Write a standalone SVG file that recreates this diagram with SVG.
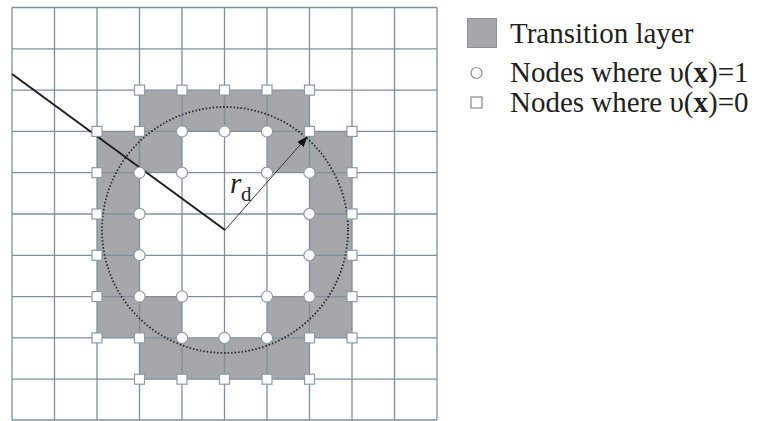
<svg xmlns="http://www.w3.org/2000/svg" xmlns:xlink="http://www.w3.org/1999/xlink" width="760" height="421" viewBox="0 0 760 421">
<style>
.grid line{stroke:#7e909c;stroke-width:1.3}
.band{fill:#a5a7aa}
.sq{fill:#fff;stroke:#8b9ba7;stroke-width:1.2}
.ci{fill:#fff;stroke:#8b9ba7;stroke-width:1.2}
.txt{font-family:"Liberation Serif","Times New Roman",serif;fill:#231f20}
</style>
<defs>
<rect id="s" x="-5" y="-5" width="10" height="10" class="sq"/>
<circle id="c" r="5.6" class="ci"/>
<marker id="ah" markerWidth="11" markerHeight="8" refX="10" refY="4" orient="auto" markerUnits="userSpaceOnUse">
<path d="M0,0 L11,4 L0,8 Z" fill="#111"/>
</marker>
</defs>
<rect width="760" height="421" fill="#fff"/>
<g id="transition-layer">
<rect class="band" x="139.5" y="90.1" width="170" height="41.3"/>
<rect class="band" x="97" y="131.4" width="85" height="41.3"/>
<rect class="band" x="267" y="131.4" width="85" height="41.3"/>
<rect class="band" x="97" y="172.7" width="42.5" height="123.9"/>
<rect class="band" x="309.5" y="172.7" width="42.5" height="123.9"/>
<rect class="band" x="97" y="296.6" width="85" height="41.3"/>
<rect class="band" x="267" y="296.6" width="85" height="41.3"/>
<rect class="band" x="139.5" y="337.9" width="170" height="41.3"/>
</g>
<g id="grid" class="grid">
<line x1="12" y1="7.5" x2="12" y2="420"/>
<line x1="54.5" y1="7.5" x2="54.5" y2="420"/>
<line x1="97" y1="7.5" x2="97" y2="420"/>
<line x1="139.5" y1="7.5" x2="139.5" y2="420"/>
<line x1="182" y1="7.5" x2="182" y2="420"/>
<line x1="224.5" y1="7.5" x2="224.5" y2="420"/>
<line x1="267" y1="7.5" x2="267" y2="420"/>
<line x1="309.5" y1="7.5" x2="309.5" y2="420"/>
<line x1="352" y1="7.5" x2="352" y2="420"/>
<line x1="394.5" y1="7.5" x2="394.5" y2="420"/>
<line x1="437" y1="7.5" x2="437" y2="420"/>
<line x1="12" y1="7.5" x2="437" y2="7.5"/>
<line x1="12" y1="48.8" x2="437" y2="48.8"/>
<line x1="12" y1="90.1" x2="437" y2="90.1"/>
<line x1="12" y1="131.4" x2="437" y2="131.4"/>
<line x1="12" y1="172.7" x2="437" y2="172.7"/>
<line x1="12" y1="214" x2="437" y2="214"/>
<line x1="12" y1="255.3" x2="437" y2="255.3"/>
<line x1="12" y1="296.6" x2="437" y2="296.6"/>
<line x1="12" y1="337.9" x2="437" y2="337.9"/>
<line x1="12" y1="379.2" x2="437" y2="379.2"/>
<line x1="12" y1="420" x2="437" y2="420"/>
</g>
<g id="connectors">
<circle cx="225" cy="230" r="123" fill="none" stroke="#2a2a2a" stroke-width="1.8" stroke-dasharray="1.5 2"/>
<line x1="12" y1="74" x2="225" y2="230" stroke="#1e1e1e" stroke-width="2"/>
<line x1="225" y1="230" x2="307" y2="137" stroke="#3a3a3a" stroke-width="1" marker-end="url(#ah)"/>
</g>
<g id="nodes-zero">
<use xlink:href="#s" x="139.5" y="90.1"/><use xlink:href="#s" x="182" y="90.1"/><use xlink:href="#s" x="224.5" y="90.1"/><use xlink:href="#s" x="267" y="90.1"/><use xlink:href="#s" x="309.5" y="90.1"/>
<use xlink:href="#s" x="139.5" y="379.2"/><use xlink:href="#s" x="182" y="379.2"/><use xlink:href="#s" x="224.5" y="379.2"/><use xlink:href="#s" x="267" y="379.2"/><use xlink:href="#s" x="309.5" y="379.2"/>
<use xlink:href="#s" x="97" y="131.4"/><use xlink:href="#s" x="97" y="172.7"/><use xlink:href="#s" x="97" y="214"/><use xlink:href="#s" x="97" y="255.3"/><use xlink:href="#s" x="97" y="296.6"/><use xlink:href="#s" x="97" y="337.9"/>
<use xlink:href="#s" x="352" y="131.4"/><use xlink:href="#s" x="352" y="172.7"/><use xlink:href="#s" x="352" y="214"/><use xlink:href="#s" x="352" y="255.3"/><use xlink:href="#s" x="352" y="296.6"/><use xlink:href="#s" x="352" y="337.9"/>
<use xlink:href="#s" x="139.5" y="131.4"/><use xlink:href="#s" x="309.5" y="131.4"/><use xlink:href="#s" x="139.5" y="337.9"/><use xlink:href="#s" x="309.5" y="337.9"/>
</g>
<g id="nodes-one">
<use xlink:href="#c" x="182" y="131.4"/><use xlink:href="#c" x="224.5" y="131.4"/><use xlink:href="#c" x="267" y="131.4"/>
<use xlink:href="#c" x="139.5" y="172.7"/><use xlink:href="#c" x="182" y="172.7"/><use xlink:href="#c" x="267" y="172.7"/><use xlink:href="#c" x="309.5" y="172.7"/>
<use xlink:href="#c" x="139.5" y="214"/><use xlink:href="#c" x="309.5" y="214"/>
<use xlink:href="#c" x="139.5" y="255.3"/><use xlink:href="#c" x="309.5" y="255.3"/>
<use xlink:href="#c" x="139.5" y="296.6"/><use xlink:href="#c" x="182" y="296.6"/><use xlink:href="#c" x="267" y="296.6"/><use xlink:href="#c" x="309.5" y="296.6"/>
<use xlink:href="#c" x="182" y="337.9"/><use xlink:href="#c" x="224.5" y="337.9"/><use xlink:href="#c" x="267" y="337.9"/>
</g>
<g id="label-rd">
<text class="txt" x="230" y="193" font-size="29" font-style="italic">r</text>
<text class="txt" x="241" y="201" font-size="21">d</text>
</g>
<g id="legend">
<rect x="467.5" y="18.5" width="29" height="29" fill="#a5a7aa" stroke="#8e9196" stroke-width="1"/>
<text class="txt" x="510" y="43" font-size="29">Transition layer</text>
<circle cx="476.5" cy="73" r="5.5" fill="#fff" stroke="#7f8a94" stroke-width="1.2"/>
<text class="txt" x="510" y="82" font-size="29">Nodes where υ(<tspan font-weight="bold">x</tspan>)=1</text>
<rect x="471" y="97" width="11" height="11" fill="#fff" stroke="#7f8a94" stroke-width="1.2"/>
<text class="txt" x="510" y="112" font-size="29">Nodes where υ(<tspan font-weight="bold">x</tspan>)=0</text>
</g>
</svg>
